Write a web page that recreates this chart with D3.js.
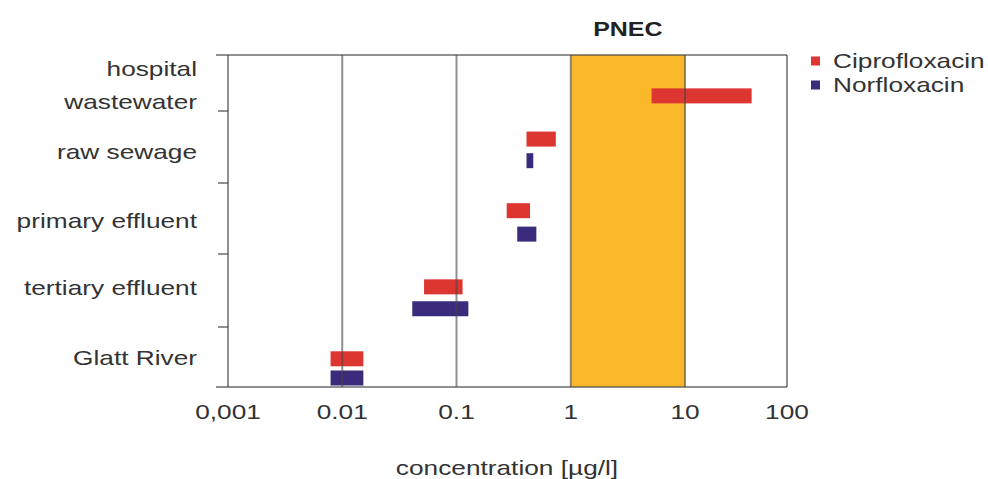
<!DOCTYPE html>
<html>
<head>
<meta charset="utf-8">
<script src="https://cdn.jsdelivr.net/npm/d3@7/dist/d3.min.js"></script>
<style>
  html, body { margin: 0; padding: 0; background: #ffffff; }
  svg { display: block; }
  text { font-family: "Liberation Sans", Arial, sans-serif; fill: #333333; }
</style>
</head>
<body>
<svg id="chart" width="988" height="479"></svg>
<script>
// ---- data ----
const categories = [["hospital", "wastewater"], ["raw sewage"], ["primary effluent"], ["tertiary effluent"], ["Glatt River"]];
const seriesNames = ["Ciprofloxacin", "Norfloxacin"];
const ciproMin = [5.1, 0.41, 0.275, 0.052, 0.0079];
const ciproMax = [45, 0.74, 0.44, 0.113, 0.0153];
const norfloMin = [null, 0.41, 0.34, 0.041, 0.0079];
const norfloMax = [null, 0.47, 0.50, 0.127, 0.0153];
const pnecRange = [1, 10];
const tickValues = [0.001, 0.01, 0.1, 1, 10, 100];
const tickLabels = ["0,001", "0.01", "0.1", "1", "10", "100"];
const xTitle = "concentration [µg/l]";
const pnecLabel = "PNEC";
const colors = ["#dd3530", "#3b2b7c"];

(function () {
// ---- layout ----
const svg = d3.select("#chart");
const SX = 1.25; // horizontal text stretch seen in reference
const x = d3.scaleLog().domain([0.001, 10, 100]).range([228, 685, 787]);
const y = d3.scaleLinear().domain([0, 1, 2, 3, 4, 5]).range([55, 111, 183, 254, 327, 387]);
const yTop = y(0), yBottom = y(5), xLeft = x(0.001), xRight = x(100);
const barH = 15;
// position of each series' bar inside its category band (layout only)
const fracs = [[0.73, 0.39, 0.39, 0.45, 0.53], [0.95, 0.69, 0.72, 0.75, 0.85]];
const lineColor = "rgba(70,70,70,0.6)";

// PNEC band
svg.append("rect")
  .attr("x", x(pnecRange[0])).attr("y", yTop)
  .attr("width", x(pnecRange[1]) - x(pnecRange[0]))
  .attr("height", yBottom - yTop)
  .attr("fill", "#fbb829");

// bars
const series = [[ciproMin, ciproMax], [norfloMin, norfloMax]];
series.forEach((s, si) => {
  const data = categories.map((c, i) => ({ i, lo: s[0][i], hi: s[1][i] })).filter(d => d.lo != null);
  svg.append("g").selectAll("rect").data(data).join("rect")
    .attr("x", d => x(d.lo))
    .attr("width", d => x(d.hi) - x(d.lo))
    .attr("y", d => y(d.i + fracs[si][d.i]) - barH / 2)
    .attr("height", barH)
    .attr("fill", colors[si]);
});

// vertical gridlines
svg.append("g").selectAll("line").data(tickValues.slice(1, -1)).join("line")
  .attr("x1", d => x(d)).attr("x2", d => x(d))
  .attr("y1", yTop).attr("y2", yBottom)
  .attr("stroke", lineColor).attr("stroke-width", 2);

// frame
svg.append("line").attr("x1", 216).attr("x2", xRight).attr("y1", yTop).attr("y2", yTop)
  .attr("stroke", lineColor).attr("stroke-width", 2);
svg.append("line").attr("x1", 216).attr("x2", xRight).attr("y1", yBottom).attr("y2", yBottom)
  .attr("stroke", lineColor).attr("stroke-width", 2);
svg.append("line").attr("x1", xLeft).attr("x2", xLeft).attr("y1", yTop).attr("y2", yBottom)
  .attr("stroke", lineColor).attr("stroke-width", 2);
svg.append("line").attr("x1", xRight).attr("x2", xRight).attr("y1", yTop).attr("y2", yBottom)
  .attr("stroke", lineColor).attr("stroke-width", 2);

// category ticks
svg.append("g").selectAll("line").data([1, 2, 3, 4]).join("line")
  .attr("x1", 218).attr("x2", xLeft)
  .attr("y1", d => y(d)).attr("y2", d => y(d))
  .attr("stroke", lineColor).attr("stroke-width", 2);

// category labels
const labelOffsets = [2, 5, 2, -3, 1];
categories.forEach((lines, i) => {
  const cy = (y(i) + y(i + 1)) / 2 + labelOffsets[i];
  const lh = 33;
  lines.forEach((t, li) => {
    const ly = cy + (li - (lines.length - 1) / 2) * lh + 7;
    svg.append("text")
      .attr("transform", `translate(197,${ly}) scale(${SX},1)`)
      .attr("text-anchor", "end")
      .attr("font-size", 21)
      .text(t);
  });
});

// x tick labels
tickValues.forEach((v, i) => {
  svg.append("text")
    .attr("transform", `translate(${x(v)},419) scale(${SX},1)`)
    .attr("text-anchor", "middle")
    .attr("font-size", 21)
    .text(tickLabels[i]);
});

// x title
svg.append("text")
  .attr("transform", `translate(507,475) scale(${SX},1)`)
  .attr("text-anchor", "middle")
  .attr("font-size", 21)
  .text(xTitle);

// PNEC label
svg.append("text")
  .attr("transform", `translate(${(x(pnecRange[0]) + x(pnecRange[1])) / 2},36) scale(${SX},1)`)
  .attr("text-anchor", "middle")
  .attr("font-size", 20)
  .attr("font-weight", "bold")
  .style("fill", "#222")
  .text(pnecLabel);

// legend
seriesNames.forEach((n, i) => {
  const ly = 61 + i * 24;
  svg.append("rect").attr("x", 811).attr("y", ly - 4.5).attr("width", 9).attr("height", 9).attr("fill", colors[i]);
  svg.append("text")
    .attr("transform", `translate(833,${ly + 7}) scale(${SX},1)`)
    .attr("font-size", 21)
    .text(n);
});
})();
</script>
</body>
</html>
